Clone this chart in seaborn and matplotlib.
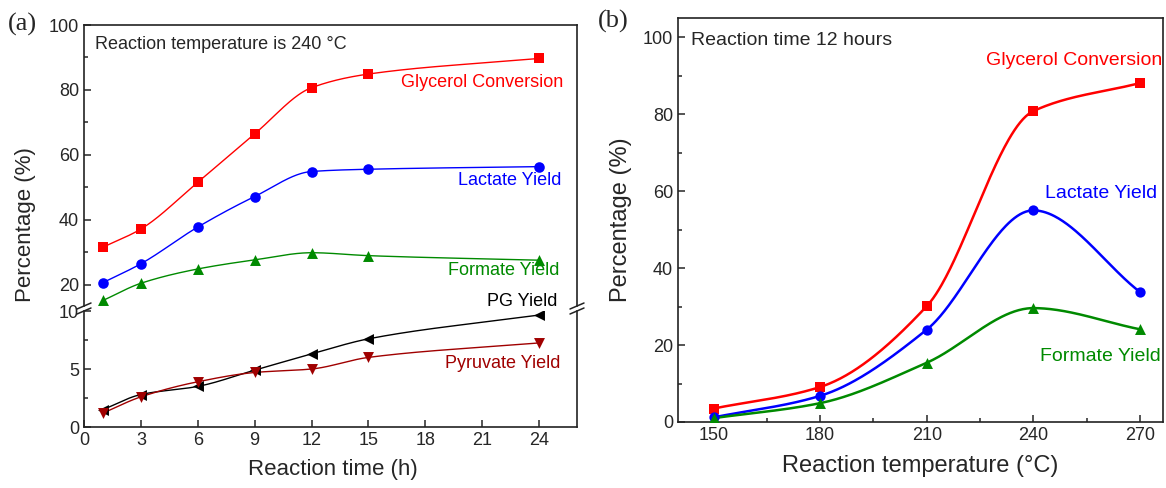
import numpy as np
import matplotlib
matplotlib.use("Agg")
import matplotlib.pyplot as plt
from matplotlib.lines import Line2D
from matplotlib.ticker import MultipleLocator
import seaborn as sns

# ---- data ----
# (a) reaction time series at 240 C
time_h = [1, 3, 6, 9, 12, 15, 24]
glycerol_t = [31.6, 37.2, 51.6, 66.5, 80.7, 84.9, 89.7]
lactate_t = [20.7, 26.5, 37.8, 47.2, 54.9, 55.6, 56.4]
formate_t = [15.2, 20.5, 24.9, 27.7, 29.9, 29.0, 27.6]
pg_t = [1.5, 2.8, 3.5, 4.9, 6.3, 7.6, 9.65]
pyruvate_t = [1.2, 2.6, 3.9, 4.7, 5.0, 6.0, 7.25]

# (b) reaction temperature series at 12 h
temp_c = [150, 180, 210, 240, 270]
glycerol_T = [3.5, 9.1, 30.1, 80.8, 88.1]
lactate_T = [1.2, 6.8, 24.0, 55.0, 33.8]
formate_T = [1.0, 4.9, 15.4, 29.6, 24.1]


def smooth(x, y, n=300):
    # monotone cubic hermite curve through the points (like Origin's spline line)
    x = np.asarray(x, float)
    y = np.asarray(y, float)
    h = np.diff(x)
    d = np.diff(y) / h
    m = np.zeros_like(y)
    for k in range(1, len(x) - 1):
        if d[k - 1] * d[k] > 0:
            w1 = 2 * h[k] + h[k - 1]
            w2 = h[k] + 2 * h[k - 1]
            m[k] = (w1 + w2) / (w1 / d[k - 1] + w2 / d[k])
    m[0] = d[0]
    m[-1] = d[-1]
    xs = np.linspace(x[0], x[-1], n)
    i = np.clip(np.searchsorted(x, xs) - 1, 0, len(h) - 1)
    t = (xs - x[i]) / h[i]
    ys = ((2 * t**3 - 3 * t**2 + 1) * y[i] + (t**3 - 2 * t**2 + t) * h[i] * m[i]
          + (-2 * t**3 + 3 * t**2) * y[i + 1] + (t**3 - t**2) * h[i] * m[i + 1])
    return xs, ys


sns.set_style("ticks")
plt.rcParams['font.family'] = ['Liberation Sans', 'DejaVu Sans']
plt.rcParams['axes.linewidth'] = 1.2
plt.rcParams['axes.edgecolor'] = '#222222'

W, H = 1166, 488
fig = plt.figure(figsize=(W / 100, H / 100), dpi=100)


def fx(px):
    return px / W


def fy(py):
    return 1 - py / H


ax_top = fig.add_axes([fx(84), fy(306), fx(577) - fx(84), fy(25) - fy(306)])
ax_bot = fig.add_axes([fx(84), fy(427), fx(577) - fx(84), fy(311) - fy(427)])
ax_r = fig.add_axes([fx(678), fy(422), fx(1163) - fx(678), fy(18) - fy(422)])

RED, BLUE, GREEN, DRED = '#ff0000', '#0000ff', '#008a00', '#a00000'


def draw(ax, x, y, color, marker, size, lw):
    xs, ys = smooth(x, y)
    sns.lineplot(x=xs, y=ys, ax=ax, color=color, lw=lw, estimator=None, sort=False)
    sns.scatterplot(x=x, y=y, ax=ax, color=color, marker=marker, s=size,
                    linewidth=0, zorder=3)


# ---- panel (a) ----
for ax in (ax_top, ax_bot):
    draw(ax, time_h, glycerol_t, RED, 's', 42, 1.0)
    draw(ax, time_h, lactate_t, BLUE, 'o', 58, 1.0)
    draw(ax, time_h, formate_t, GREEN, '^', 62, 1.0)
    draw(ax, time_h, pg_t, 'black', '<', 62, 1.0)
    draw(ax, time_h, pyruvate_t, DRED, 'v', 62, 1.0)
    ax.set_xlim(0, 26)
    ax.set_xlabel('')
    ax.set_ylabel('')
    ax.tick_params(which='both', direction='in', labelsize=13, width=1.1)
    ax.tick_params(which='major', length=5)
    ax.tick_params(which='minor', length=3)

ax_top.set_ylim(13.5, 100)
ax_top.yaxis.set_major_locator(MultipleLocator(20))
ax_top.yaxis.set_minor_locator(MultipleLocator(10))
ax_top.spines['bottom'].set_visible(False)
ax_top.tick_params(axis='x', which='both', bottom=False, labelbottom=False)

ax_bot.set_ylim(0, 10)
ax_bot.yaxis.set_major_locator(MultipleLocator(5))
ax_bot.yaxis.set_minor_locator(MultipleLocator(2.5))
ax_bot.set_xticks([0, 3, 6, 9, 12, 15, 18, 21, 24])
ax_bot.spines['top'].set_visible(False)

ax_top.text(0.022, 0.93, 'Reaction temperature is 240 °C', transform=ax_top.transAxes,
            fontsize=13, va='center', ha='left')
ax_top.text(25.26, 82.2, 'Glycerol Conversion', color=RED, fontsize=13, ha='right', va='center')
ax_top.text(25.15, 52.0, 'Lactate Yield', color=BLUE, fontsize=13, ha='right', va='center')
ax_top.text(25.05, 24.3, 'Formate Yield', color=GREEN, fontsize=13, ha='right', va='center')
ax_top.text(24.95, 14.8, 'PG Yield', color='black', fontsize=13, ha='right', va='center')
ax_bot.text(25.1, 5.45, 'Pyruvate Yield', color=DRED, fontsize=13, ha='right', va='center')

# axis break marks on both sides
for xpx in (84, 577):
    for ypx in (306, 311):
        fig.add_artist(Line2D([fx(xpx - 7), fx(xpx + 7)], [fy(ypx + 3), fy(ypx - 3)],
                              color='#222222', lw=1.1))

fig.text(fx(26), fy(225), 'Percentage (%)', rotation=90, fontsize=16, ha='center', va='center')
fig.text(fx(333), fy(470), 'Reaction time (h)', fontsize=16, ha='center', va='center')

# ---- panel (b) ----
draw(ax_r, temp_c, glycerol_T, RED, 's', 42, 1.8)
draw(ax_r, temp_c, lactate_T, BLUE, 'o', 55, 1.8)
draw(ax_r, temp_c, formate_T, GREEN, '^', 62, 1.8)
ax_r.set_xlim(140, 276.5)
ax_r.set_ylim(0, 105)
ax_r.set_xticks(temp_c)
ax_r.xaxis.set_minor_locator(MultipleLocator(15))
ax_r.yaxis.set_major_locator(MultipleLocator(20))
ax_r.yaxis.set_minor_locator(MultipleLocator(10))
ax_r.tick_params(which='both', direction='in', labelsize=13, width=1.1)
ax_r.tick_params(which='major', length=5)
ax_r.tick_params(which='minor', length=3)
ax_r.set_xlabel('Reaction temperature (°C)', fontsize=17, labelpad=8)
ax_r.set_ylabel('Percentage (%)', fontsize=17, labelpad=8)
ax_r.text(0.027, 0.945, 'Reaction time 12 hours', transform=ax_r.transAxes,
          fontsize=14, va='center', ha='left')
ax_r.text(251.5, 93.9, 'Glycerol Conversion', color=RED, fontsize=14, ha='center', va='center')
ax_r.text(259, 59.4, 'Lactate Yield', color=BLUE, fontsize=14, ha='center', va='center')
ax_r.text(259, 17.0, 'Formate Yield', color=GREEN, fontsize=14, ha='center', va='center')

fig.text(fx(8), fy(24), '(a)', fontsize=19, family='Liberation Serif', ha='left', va='center')
fig.text(fx(598), fy(21), '(b)', fontsize=19, family='Liberation Serif', ha='left', va='center')

fig.savefig('out.png', dpi=100)
